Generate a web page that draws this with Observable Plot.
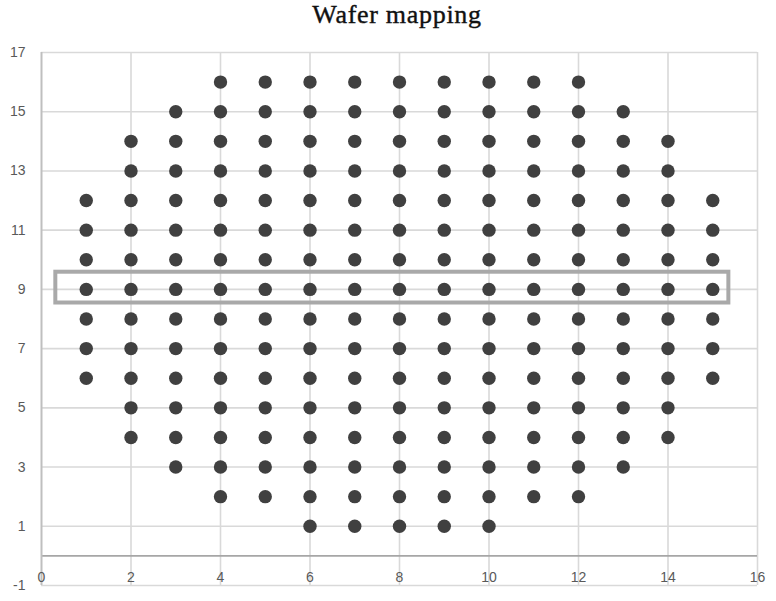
<!DOCTYPE html>
<html>
<head>
<meta charset="utf-8">
<script src="https://cdn.jsdelivr.net/npm/d3@7"></script>
<script src="https://cdn.jsdelivr.net/npm/@observablehq/plot@0.6"></script>
<style>
  body { margin: 0; background: #fff; }
  #title { height: 36px; width: 776px; text-align: center; font-family: "Liberation Serif", "DejaVu Serif", serif; font-size: 26px; line-height: 26px; padding-top: 2px; letter-spacing: 0.7px; color: #111; -webkit-text-stroke: 0.4px #111; padding-left: 18px; box-sizing: border-box; }
  #chart svg { display: block; }
</style>
</head>
<body>
<div id="title">Wafer mapping</div>
<div id="chart"></div>
<script>
const xTicks = [0, 2, 4, 6, 8, 10, 12, 14, 16];
const yTicks = [-1, 1, 3, 5, 7, 9, 11, 13, 15, 17];

// die rows: y value and the x positions of the dies in that row
const rowY = [16, 15, 14, 13, 12, 11, 10, 9, 8, 7, 6, 5, 4, 3, 2, 1];
const rowX = [
  [4, 5, 6, 7, 8, 9, 10, 11, 12],
  [3, 4, 5, 6, 7, 8, 9, 10, 11, 12, 13],
  [2, 3, 4, 5, 6, 7, 8, 9, 10, 11, 12, 13, 14],
  [2, 3, 4, 5, 6, 7, 8, 9, 10, 11, 12, 13, 14],
  [1, 2, 3, 4, 5, 6, 7, 8, 9, 10, 11, 12, 13, 14, 15],
  [1, 2, 3, 4, 5, 6, 7, 8, 9, 10, 11, 12, 13, 14, 15],
  [1, 2, 3, 4, 5, 6, 7, 8, 9, 10, 11, 12, 13, 14, 15],
  [1, 2, 3, 4, 5, 6, 7, 8, 9, 10, 11, 12, 13, 14, 15],
  [1, 2, 3, 4, 5, 6, 7, 8, 9, 10, 11, 12, 13, 14, 15],
  [1, 2, 3, 4, 5, 6, 7, 8, 9, 10, 11, 12, 13, 14, 15],
  [1, 2, 3, 4, 5, 6, 7, 8, 9, 10, 11, 12, 13, 14, 15],
  [2, 3, 4, 5, 6, 7, 8, 9, 10, 11, 12, 13, 14],
  [2, 3, 4, 5, 6, 7, 8, 9, 10, 11, 12, 13, 14],
  [3, 4, 5, 6, 7, 8, 9, 10, 11, 12, 13],
  [4, 5, 6, 7, 8, 9, 10, 11, 12],
  [6, 7, 8, 9, 10]
];

// highlighted row box (data coordinates)
const highlightX = [0.32, 15.36];
const highlightY = [8.54, 9.58];

const dies = rowY.flatMap((y, i) => rowX[i].map(x => ({x, y})));

const fontFam = "'Liberation Sans', 'Open Sans', sans-serif";

const chart = Plot.plot({
  width: 776,
  height: 565,
  marginLeft: 41,
  marginRight: 19,
  marginTop: 16,
  marginBottom: 16,
  style: {fontFamily: fontFam, fontSize: "14px", color: "#595959", background: "#fff"},
  x: {domain: [0, 16], axis: null},
  y: {domain: [-1, 17], axis: null},
  marks: [
    Plot.ruleX(xTicks.filter(d => d !== 0), {stroke: "#d9d9d9", strokeWidth: 1.6}),
    Plot.ruleY(yTicks, {stroke: "#d9d9d9", strokeWidth: 1.6}),
    Plot.ruleY([0], {stroke: "#a6a6a6", strokeWidth: 1.6}),
    Plot.ruleX([0], {stroke: "#bfbfbf", strokeWidth: 2}),
    Plot.axisY({ticks: yTicks, label: null, tickSize: 0, tickPadding: 16, tickFormat: d => String(d), fill: "#595959", fontSize: 14}),
    Plot.text(xTicks, {x: d => d, y: -1, dy: -8, text: d => String(d), fill: "#595959", fontSize: 14}),
    Plot.rect([0], {x1: () => highlightX[0], x2: () => highlightX[1], y1: () => highlightY[0], y2: () => highlightY[1], fill: "none", stroke: "#a9a9a9", strokeWidth: 4}),
    Plot.dot(dies, {x: "x", y: "y", r: 6.7, fill: "#404040", stroke: "none"})
  ]
});
document.getElementById("chart").appendChild(chart);
</script>
</body>
</html>
